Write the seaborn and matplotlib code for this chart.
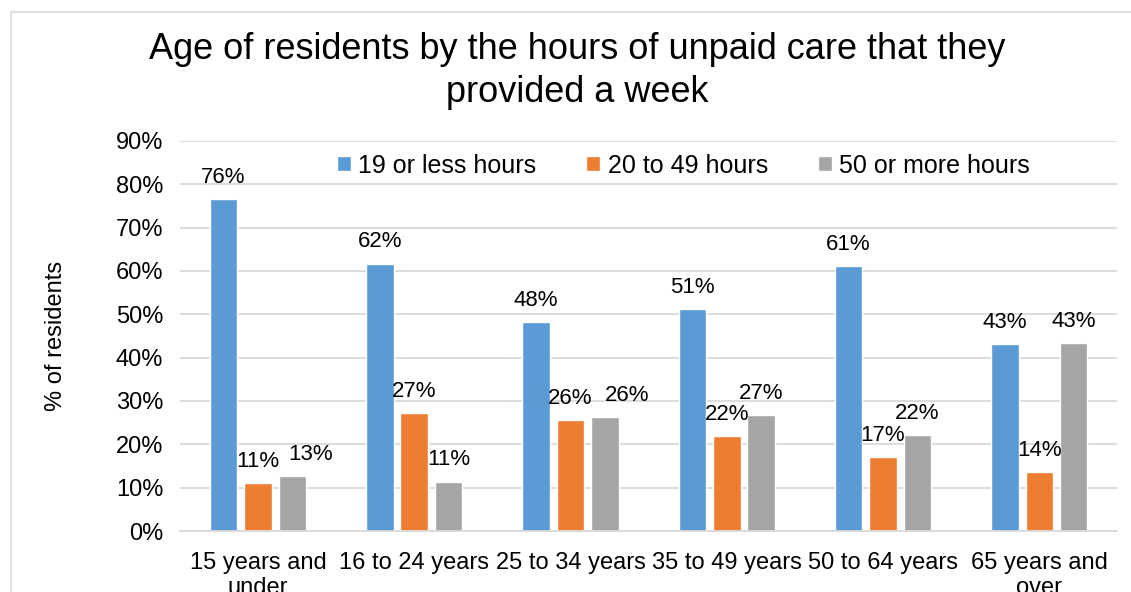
import matplotlib
matplotlib.use("Agg")
import matplotlib.pyplot as plt
import seaborn as sns
import pandas as pd
from matplotlib.patches import Rectangle

categories = ["15 years and\nunder", "16 to 24 years", "25 to 34 years",
              "35 to 49 years", "50 to 64 years", "65 years and\nover"]
series = ["19 or less hours", "20 to 49 hours", "50 or more hours"]
v_19_or_less = [76.5, 61.7, 48.2, 51.3, 61.2, 43.1]
v_20_to_49 = [11.1, 27.2, 25.7, 22.0, 17.0, 13.6]
v_50_or_more = [12.6, 11.4, 26.3, 26.8, 22.1, 43.4]
colors = ["#5B9BD5", "#ED7D31", "#A5A5A5"]

rows = []
for s, vals in zip(series, [v_19_or_less, v_20_to_49, v_50_or_more]):
    for c, v in zip(categories, vals):
        rows.append({"age": c, "series": s, "value": v})
df = pd.DataFrame(rows)

sns.set_theme(style="white")
plt.rcParams["font.family"] = ["Liberation Sans", "DejaVu Sans"]
plt.rcParams["text.color"] = "black"
plt.rcParams["xtick.color"] = "black"
plt.rcParams["ytick.color"] = "black"
plt.rcParams["axes.labelcolor"] = "black"

fig = plt.figure(figsize=(11.31, 5.92), dpi=100)
ax = fig.add_axes([0.159, 0.103, 0.829, 0.659])

sns.barplot(data=df, x="age", y="value", hue="series", order=categories,
            hue_order=series, palette=colors, width=0.66, gap=0.2,
            saturation=1, ax=ax, legend=True)

ax.set_ylim(0, 90)
ax.set_yticks(range(0, 91, 10))
ax.set_yticklabels([f"{t}%" for t in range(0, 91, 10)], fontsize=17)
ax.tick_params(axis="x", labelsize=17, pad=15, length=0)
ax.tick_params(axis="y", length=0, pad=12)
ax.yaxis.grid(True, color="#D9D9D9", linewidth=1.3)
ax.set_axisbelow(True)
for sp in ["left", "top", "right"]:
    ax.spines[sp].set_visible(False)
ax.spines["bottom"].set_color("#D9D9D9")
ax.spines["bottom"].set_linewidth(1.3)
ax.set_xlabel("")
ax.set_ylabel("% of residents", fontsize=17, labelpad=35)

# data labels
nudges = {(2, 0): 13, (2, 2): 16}
for si, cont in enumerate(ax.containers):
    for ci, bar in enumerate(cont):
        h = bar.get_height()
        dx = nudges.get((si, ci), 0)
        ax.annotate(f"{round(h):.0f}%", (bar.get_x() + bar.get_width() / 2, h),
                    xytext=(dx, 8), textcoords="offset points",
                    ha="center", va="bottom", fontsize=16, color="black")

leg = ax.legend(loc="upper center", bbox_to_anchor=(0.537, 1.025), ncol=3,
                frameon=False, fontsize=18, handlelength=0.55, handleheight=0.55,
                handletextpad=0.3, columnspacing=2.0)

fig.text(0.51, 0.88, "Age of residents by the hours of unpaid care that they\nprovided a week",
         ha="center", va="center", fontsize=26, linespacing=1.27)

fig.patches.append(Rectangle((11 / 1131, -0.1), 1.2, 1 - 12 / 592 + 0.1,
                             transform=fig.transFigure, fill=False,
                             edgecolor="#D9D9D9", linewidth=1.2))

fig.savefig("out.png", dpi=100)
